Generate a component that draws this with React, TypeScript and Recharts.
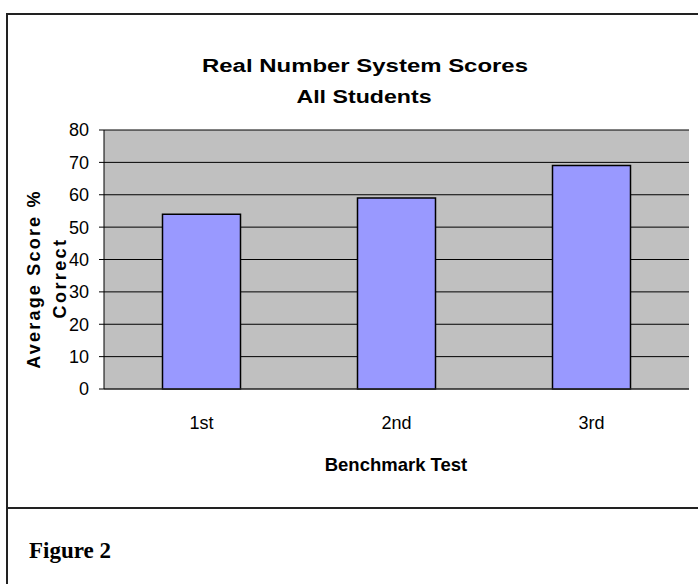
import { BarChart, Bar, XAxis, YAxis, CartesianGrid } from "recharts";

const tests = ["1st", "2nd", "3rd"];
const scores = [54, 59, 69];
const yTicks = [0, 10, 20, 30, 40, 50, 60, 70, 80];
const bandTicks = [0, 1, 2, 3];

const data = tests.map((t, i) => ({ test: t, score: scores[i] }));

const sans = "'Liberation Sans', Arial, sans-serif";

export default function App() {
  return (
    <div style={{ position: "absolute", left: 0, top: 0, width: 698, height: 584, background: "#fff" }}>
      {/* frame around chart and caption */}
      <div style={{ position: "absolute", left: 6, top: 13, width: 700, height: 600, borderLeft: "2px solid #222", borderTop: "2px solid #222" }} />
      <div style={{ position: "absolute", left: 6, top: 507, width: 700, height: 0, borderTop: "2px solid #222" }} />

      <BarChart
        width={698}
        height={584}
        data={data}
        margin={{ top: 130, right: 9, left: 0, bottom: 135 }}
        barCategoryGap="30%"
        style={{ position: "absolute", left: 0, top: 0 }}
      >
        <CartesianGrid vertical={false} stroke="#000" fill="#C0C0C0" fillOpacity={1} />
        <XAxis
          xAxisId="band"
          type="number"
          domain={[0, 3]}
          ticks={bandTicks}
          height={0}
          tickSize={6}
          tickFormatter={() => ""}
          axisLine={false}
          tickLine={{ stroke: "#000" }}
        />
        <XAxis
          dataKey="test"
          height={60}
          tickLine={false}
          tickSize={5}
          tickMargin={22}
          axisLine={{ stroke: "#333" }}
          tick={{ fill: "#000", fontSize: 18, fontFamily: sans }}
        />
        <XAxis xAxisId="top" orientation="top" type="number" domain={[0, 3]} height={0} tick={false} tickLine={false} axisLine={{ stroke: "#808080" }} />
        <YAxis
          width={104}
          domain={[0, 80]}
          ticks={yTicks}
          interval={0}
          tickSize={5}
          tickMargin={10}
          axisLine={{ stroke: "#000" }}
          tickLine={{ stroke: "#000" }}
          tick={{ fill: "#000", fontSize: 18, fontFamily: sans }}
        />
        <YAxis yAxisId="right" orientation="right" width={0} domain={[0, 80]} tick={false} tickLine={false} axisLine={{ stroke: "#808080" }} />
        <Bar dataKey="score" fill="#9999FF" stroke="#000" strokeWidth={1.5} isAnimationActive={false} />
      </BarChart>

      <svg width={698} height={584} style={{ position: "absolute", left: 0, top: 0, pointerEvents: "none" }}>
        <g fontFamily={sans} fontWeight="bold" fill="#000">
          <g transform="translate(365,72) scale(1.26,1)">
            <text x={0} y={0} fontSize={19} textAnchor="middle">Real Number System Scores</text>
          </g>
          <g transform="translate(364,103) scale(1.22,1)">
            <text x={0} y={0} fontSize={19} textAnchor="middle">All Students</text>
          </g>
          <text transform="rotate(-90)" x={-279} y={40} fontSize={18} letterSpacing={2.2} textAnchor="middle">Average Score %</text>
          <text transform="rotate(-90)" x={-278} y={66} fontSize={18} letterSpacing={2.4} textAnchor="middle">Correct</text>
          <text x={396} y={471} fontSize={18.5} textAnchor="middle">Benchmark Test</text>
        </g>
        <text x={29} y={558} fontFamily="'Liberation Serif', 'Times New Roman', serif" fontWeight="bold" fontSize={23}>Figure 2</text>
      </svg>
    </div>
  );
}
